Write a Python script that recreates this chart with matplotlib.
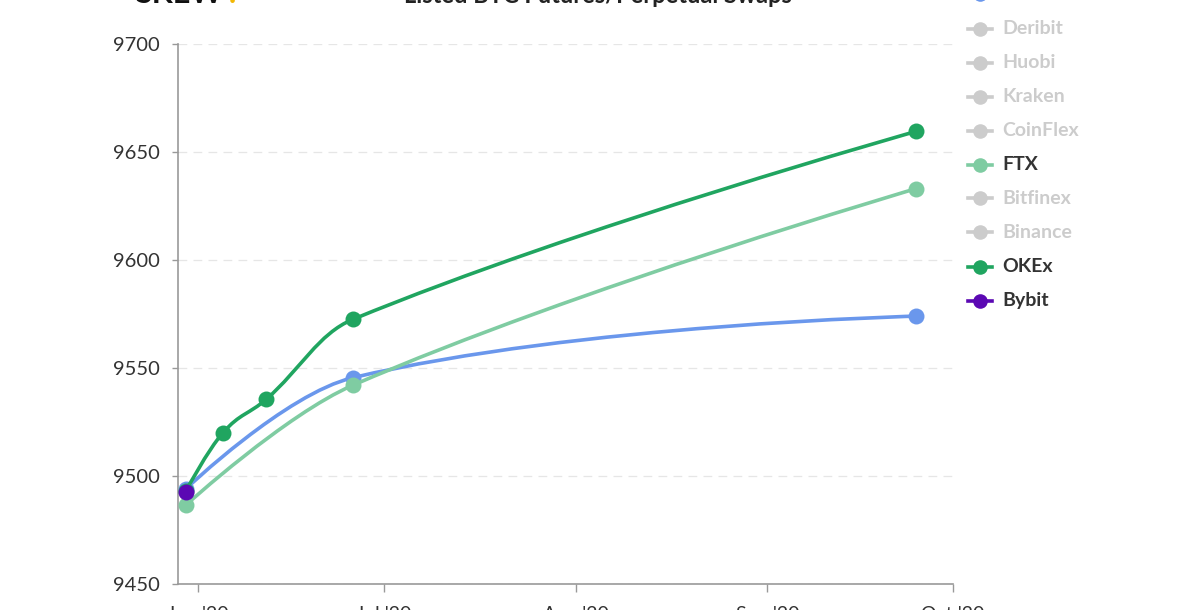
import matplotlib
matplotlib.use('Agg')
import matplotlib.pyplot as plt
import matplotlib.dates as mdates
from matplotlib.path import Path
from matplotlib.patches import PathPatch
from matplotlib.lines import Line2D
import numpy as np
import pandas as pd

plt.rcParams['font.family'] = ['Lato', 'DejaVu Sans']

# ── Data (expiry date vs futures price) ───────────────────────────────────────
bitmex_dates = ['2020-05-30', '2020-06-26', '2020-09-25']
bitmex_px = [9494, 9545.5, 9574]

ftx_dates = ['2020-05-30', '2020-06-26', '2020-09-25']
ftx_px = [9486.5, 9542, 9633]

okex_dates = ['2020-05-30', '2020-06-05', '2020-06-12', '2020-06-26', '2020-09-25']
okex_px = [9493, 9520, 9535.5, 9572.5, 9659.5]

bybit_dates = ['2020-05-30']
bybit_px = [9492.5]

legend_labels = ['BitMEX', 'Deribit', 'Huobi', 'Kraken', 'CoinFlex', 'FTX',
                 'Bitfinex', 'Binance', 'OKEx', 'Bybit']
legend_colors = ['#6a97ec', None, None, None, None, '#7fcca2',
                 None, None, '#20a560', '#5b08b3']

month_ticks = ['2020-06-01', '2020-07-01', '2020-08-01', '2020-09-01', '2020-10-01']
month_labels = ["Jun '20", "Jul '20", "Aug '20", "Sep '20", "Oct '20"]
y_ticks = [9450, 9500, 9550, 9600, 9650, 9700]

BLUE = '#6a97ec'
LGREEN = '#7fcca2'
GREEN = '#20a560'
PURPLE = '#5b08b3'
HIDDEN = '#cccccc'
TXT = '#333333'


def to_num(ds):
    return mdates.date2num(pd.to_datetime(ds).to_pydatetime())


def spline_path(xs, ys, smoothing=1.5):
    # Highcharts-style spline through the points
    n = len(xs)
    rc = [None] * n
    lc = [None] * n
    verts = [(xs[0], ys[0])]
    codes = [Path.MOVETO]
    for i in range(1, n - 1):
        d = smoothing + 1
        lx = (smoothing * xs[i] + xs[i - 1]) / d
        ly = (smoothing * ys[i] + ys[i - 1]) / d
        rx = (smoothing * xs[i] + xs[i + 1]) / d
        ry = (smoothing * ys[i] + ys[i + 1]) / d
        corr = 0
        if rx != lx:
            corr = (ry - ly) * (rx - xs[i]) / (rx - lx) + ys[i] - ry
        ly += corr
        ry += corr
        if ly > ys[i - 1] and ly > ys[i]:
            ly = max(ys[i - 1], ys[i]); ry = 2 * ys[i] - ly
        elif ly < ys[i - 1] and ly < ys[i]:
            ly = min(ys[i - 1], ys[i]); ry = 2 * ys[i] - ly
        if ry > ys[i + 1] and ry > ys[i]:
            ry = max(ys[i + 1], ys[i]); ly = 2 * ys[i] - ry
        elif ry < ys[i + 1] and ry < ys[i]:
            ry = min(ys[i + 1], ys[i]); ly = 2 * ys[i] - ry
        lc[i] = (lx, ly)
        rc[i] = (rx, ry)
    for i in range(1, n):
        c1 = rc[i - 1] if rc[i - 1] is not None else (xs[i - 1], ys[i - 1])
        c2 = lc[i] if lc[i] is not None else (xs[i], ys[i])
        verts += [c1, c2, (xs[i], ys[i])]
        codes += [Path.CURVE4] * 3
    return Path(verts, codes)


fig = plt.figure(figsize=(12, 6.1), dpi=100, facecolor='white')
ax = fig.add_axes([178 / 1200, 1 - 584 / 610, (953 - 178) / 1200, (584 - 44) / 610])

series = [
    (bitmex_dates, bitmex_px, BLUE),
    (ftx_dates, ftx_px, LGREEN),
    (okex_dates, okex_px, GREEN),
    (bybit_dates, bybit_px, PURPLE),
]
for z, (ds, px, col) in enumerate(series):
    xs = to_num(ds)
    if len(xs) > 1:
        ax.add_patch(PathPatch(spline_path(list(xs), list(px)), fill=False,
                               edgecolor=col, lw=2.6, zorder=3 + z,
                               capstyle='round', joinstyle='round'))
    ax.plot(xs, px, ls='none', marker='o', ms=11.5, color=col,
            markeredgewidth=0, zorder=3 + z)

ax.set_xlim(to_num(['2020-05-28 18:00'])[0], to_num(['2020-10-01'])[0])
ax.set_ylim(9450, 9700)
ax.set_xticks(to_num(month_ticks))
ax.set_xticklabels(month_labels)
ax.set_yticks(y_ticks)

for s in ['top', 'right']:
    ax.spines[s].set_visible(False)
ax.spines[['left', 'bottom']].set_color('#999999')
ax.spines[['left', 'bottom']].set_linewidth(1.2)
ax.tick_params(axis='x', length=6, width=1.0, color='#999999', pad=9.5,
               labelsize=14, labelcolor=TXT)
ax.tick_params(axis='y', length=4, width=1.0, color='#999999', pad=9,
               labelsize=14.5, labelcolor=TXT)
ax.yaxis.grid(True, color='#e6e6e6', lw=0.9, linestyle=(0, (7, 5)))
ax.set_axisbelow(True)

# ── Cropped header ────────────────────────────────────────────────────────────
fig.text(598 / 1200, 1 - 3 / 610, 'Listed BTC Futures/Perpetual Swaps', ha='center',
         va='baseline', fontsize=17, fontweight='bold', color='#222222')
fig.text(135 / 1200, 1 - 3 / 610, 'SKEW', ha='left', va='baseline',
         fontsize=22, fontweight='bold', color='#111111')
fig.text(229 / 1200, 1 - 3 / 610, '.', ha='left', va='baseline',
         fontsize=22, fontweight='bold', color='#f2b705')

# ── Legend ────────────────────────────────────────────────────────────────────
for i, (lab, col) in enumerate(zip(legend_labels, legend_colors)):
    yy = 1 - (-5.5 + 34 * i) / 610
    c = col if col else HIDDEN
    fig.add_artist(Line2D([968 / 1200, 992 / 1200], [yy, yy], color=c, lw=2.6,
                          transform=fig.transFigure))
    fig.add_artist(Line2D([980 / 1200], [yy], color=c, marker='o', ms=10.5,
                          markeredgewidth=0, transform=fig.transFigure))
    fig.text(1002 / 1200, yy, lab, ha='left', va='center', fontsize=14,
             fontweight='bold', color=TXT if col else HIDDEN)

fig.savefig('out.png', dpi=100, facecolor='white')
